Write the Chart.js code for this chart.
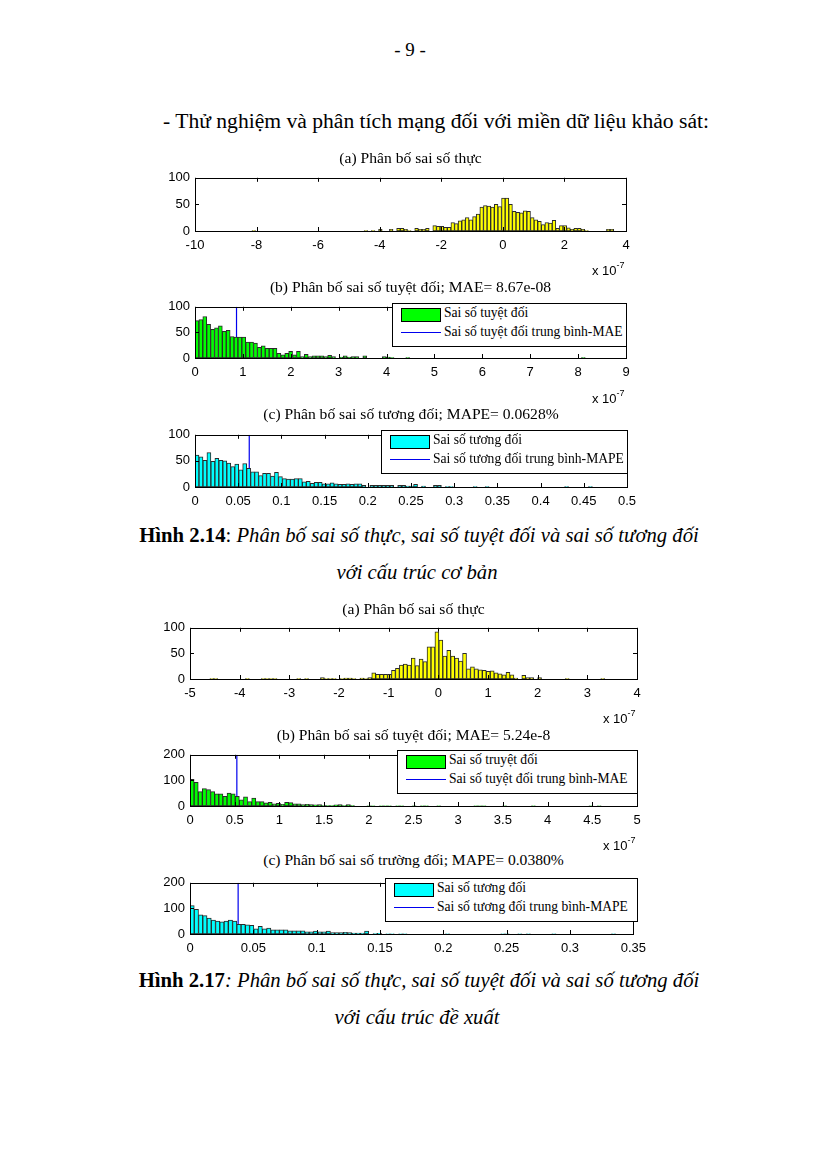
<!DOCTYPE html>
<html>
<head>
<meta charset="utf-8">
<script src="https://cdn.jsdelivr.net/npm/chart.js@4.4.1/dist/chart.umd.min.js"></script>
<style>
  html, body { margin: 0; padding: 0; background: #fff; }
  #page { position: relative; width: 819px; height: 1157px; font-family: 'Liberation Serif', 'Times New Roman', serif; color: #000; overflow: hidden; }
  .abs { position: absolute; white-space: nowrap; }
  .ctr { transform: translate(-50%, -50%); }
  .ttl { font-size: 15.6px; }
  .expo { font-family: 'Liberation Sans', Arial, sans-serif; font-size: 13px; }
  .expo sup { font-size: 9px; position: relative; top: -2px; }
  .legend { position: absolute; border: 1px solid #000; background: #fff; font-size: 13.6px; }
  .cap { font-size: 20.7px; }
  canvas { position: absolute; }
</style>
</head>
<body>
<div id="page">
  <div class="abs ctr" style="left:410px; top:50px; font-size:19px;">- 9 -</div>
  <div class="abs" style="left:163px; top:109px; font-size:21.6px;">- Thử nghiệm và phân tích mạng đối với miền dữ liệu khảo sát:</div>

  <div class="abs ctr cap" style="left:419px; top:535px;"><b>Hình 2.14</b>: <i>Phân bố sai số thực, sai số tuyệt đối và sai số tương đối</i></div>
  <div class="abs ctr cap" style="left:417px; top:572px;"><i>với cấu trúc cơ bản</i></div>
  <div class="abs ctr cap" style="left:419px; top:980px;"><b>Hình 2.17</b><i>: Phân bố sai số thực, sai số tuyệt đối và sai số tương đối</i></div>
  <div class="abs ctr cap" style="left:417px; top:1017px;"><i>với cấu trúc đề xuất</i></div>
</div>
<script>
// histogram counts (100 bins each)
const realErr1 = [
  1,0,0,0,0,0,0,0,0,0,
  0,0,0,0,0,0,0,0,0,0,
  0,0,0,0,0,0,0,0,0,0,
  0,1,0,1,0,3,0,0,3,0,
  5,5,3,1,0,5,3,3,5,0,
  10,9,9,7,7,16,14,19,21,25,
  21,27,32,45,48,47,45,50,46,62,
  62,50,37,35,34,38,37,25,21,18,
  12,16,15,20,5,10,10,6,3,5,
  5,3,1,0,0,0,0,0,3,3
];
const absErr1 = [
  73,75,81,66,56,59,63,52,54,42,
  41,41,41,31,31,29,21,24,19,19,
  19,9,6,9,13,6,13,3,7,3,
  4,4,4,3,5,3,0,2,4,2,
  3,3,0,4,0,0,0,0,3,2,
  1,0,0,0,1,0,0,0,0,0,
  0,0,0,0,0,0,0,0,0,0,
  0,0,0,0,0,0,0,0,0,0,
  0,0,0,0,0,0,0,0,0,0,
  0,0,0,0,0,0,0,0,0,1
];
const relErr1 = [
  61,58,51,66,49,55,51,50,46,39,
  44,33,45,36,29,29,22,26,26,21,
  28,20,16,15,15,16,16,10,11,7,
  9,9,6,6,8,6,5,5,6,5,
  6,6,3,0,3,3,3,3,3,3,
  0,3,3,2,2,5,0,2,0,0,
  3,3,0,1,1,0,0,0,0,0,
  1,0,0,1,0,0,0,0,0,0,
  0,0,0,0,0,0,0,0,0,0,
  0,0,0,1,0,0,0,0,0,1
];
const realErr2 = [
  1,1,0,0,0,0,0,0,0,1,
  0,0,0,1,1,1,1,0,0,0,
  0,0,1,0,1,0,0,0,3,1,
  1,1,0,1,2,2,1,0,2,1,
  3,12,9,9,9,9,17,21,27,29,
  27,41,26,39,34,63,63,92,76,45,
  56,45,41,35,50,20,24,20,18,17,
  15,16,12,10,8,13,8,2,0,7,
  3,3,0,3,0,0,0,0,0,0,
  1,0,0,0,0,0,0,0,0,1
];
const absErr2 = [
  104,92,56,68,64,56,48,48,38,50,
  48,38,24,36,17,31,17,17,12,14,
  8,10,7,14,13,8,8,6,7,6,
  5,6,2,2,2,5,6,2,6,2,
  0,0,0,1,1,0,1,1,1,0,
  1,1,0,0,1,0,1,1,0,0,
  1,0,0,0,0,0,0,0,0,1,
  1,1,0,0,0,0,1,0,0,0,
  0,0,0,1,0,0,0,0,0,0,
  0,0,0,0,0,0,0,1,0,1
];
const relErr2 = [
  111,96,75,72,62,54,50,48,50,54,
  50,38,38,36,34,20,30,20,23,16,
  16,16,16,12,12,12,12,8,8,11,
  8,8,11,6,6,6,7,6,4,4,
  4,11,0,2,3,0,1,1,0,1,
  1,0,0,0,0,0,0,0,0,0,
  1,0,0,0,0,0,0,0,0,0,
  0,0,0,1,1,0,0,1,0,1,
  0,0,0,0,0,1,0,0,0,0,
  0,0,0,0,0,0,0,0,0,1
];

// bin edges: [first edge, bin width]
const bins1a = [-8.15, 0.1175];
const bins1b = [0, 0.0815];
const bins1c = [0, 0.0046];
const bins2a = [-4.6, 0.0795];
const bins2b = [0, 0.046];
const bins2c = [0, 0.00336];

// mean lines (MAE in 1e-7 units, MAPE in %)
const mae1 = 0.867, mape1 = 0.0628;
const mae2 = 0.524, mape2 = 0.038;

const titles = [
  '(a) Phân bố sai số thực',
  '(b) Phân bố sai số tuyệt đối; MAE= 8.67e-08',
  '(c) Phân bố sai số tương đối; MAPE= 0.0628%',
  '(a) Phân bố sai số thực',
  '(b) Phân bố sai số tuyệt đối; MAE= 5.24e-8',
  '(c) Phân bố sai số trường đối; MAPE= 0.0380%',
];
const absLegend1 = ['Sai số tuyệt đối', 'Sai số tuyệt đối trung bình-MAE'];
const relLegend1 = ['Sai số tương đối', 'Sai số tương đối trung bình-MAPE'];
const absLegend2 = ['Sai số truyệt đối', 'Sai số tuyệt đối trung bình-MAE'];
const relLegend2 = ['Sai số tương đối', 'Sai số tương đối trung bình-MAPE'];

const page = document.getElementById('page');
const LEFT_W = 45, TOP_PAD = 8, RIGHT_PAD = 16, BOTTOM_H = 22;
const MEAN_COLOR = '#0000ee';

// matlab style box with inward ticks
const boxPlugin = {
  id: 'box',
  afterDatasetsDraw(chart) {
    const { ctx, chartArea: a, scales } = chart;
    ctx.save();
    ctx.strokeStyle = '#000';
    ctx.lineWidth = 1;
    ctx.strokeRect(Math.round(a.left) + 0.5, Math.round(a.top) + 0.5, Math.round(a.right - a.left), Math.round(a.bottom - a.top));
    ctx.beginPath();
    scales.x.ticks.forEach((t) => {
      const x = Math.round(scales.x.getPixelForValue(t.value)) + 0.5;
      ctx.moveTo(x, a.bottom); ctx.lineTo(x, a.bottom - 4);
      ctx.moveTo(x, a.top); ctx.lineTo(x, a.top + 4);
    });
    scales.y.ticks.forEach((t) => {
      const y = Math.round(scales.y.getPixelForValue(t.value)) + 0.5;
      ctx.moveTo(a.left, y); ctx.lineTo(a.left + 4, y);
      ctx.moveTo(a.right, y); ctx.lineTo(a.right - 4, y);
    });
    ctx.stroke();
    ctx.restore();
  }
};

function addText(html, cls, x, y) {
  const d = document.createElement('div');
  d.className = 'abs ' + cls;
  d.style.left = x + 'px';
  d.style.top = y + 'px';
  d.innerHTML = html;
  page.appendChild(d);
  return d;
}

function addLegend(labels, color, box) {
  const lg = document.createElement('div');
  lg.className = 'legend';
  lg.style.left = box.l + 'px';
  lg.style.top = box.t + 'px';
  lg.style.width = (box.w - 2) + 'px';
  lg.style.height = (box.h - 2) + 'px';
  lg.innerHTML =
    `<div style="position:absolute;left:8px;top:4px;width:38px;height:12px;background:${color};border:1px solid #000;"></div>` +
    `<div class="abs" style="left:51px;top:1px;">${labels[0]}</div>` +
    `<div style="position:absolute;left:8px;top:28px;width:40px;height:1px;background:${MEAN_COLOR};"></div>` +
    `<div class="abs" style="left:51px;top:20px;">${labels[1]}</div>`;
  page.appendChild(lg);
}

function makeHist(box, counts, binDef, color, x, y, mean) {
  const cv = document.createElement('canvas');
  const w = (box.r - box.l) + LEFT_W + RIGHT_PAD;
  const h = (box.b - box.t) + TOP_PAD + BOTTOM_H;
  cv.width = w; cv.height = h;
  cv.style.left = (box.l - LEFT_W) + 'px';
  cv.style.top = (box.t - TOP_PAD) + 'px';
  cv.style.width = w + 'px'; cv.style.height = h + 'px';
  page.appendChild(cv);

  const pts = counts.map((c, i) => ({ x: binDef[0] + (i + 0.5) * binDef[1], y: c }));
  const datasets = [{
    type: 'bar',
    data: pts,
    backgroundColor: color,
    borderColor: '#2a2a2a',
    borderWidth: 1,
    borderSkipped: false,
    barPercentage: 1,
    categoryPercentage: 1,
  }];
  if (mean !== undefined) {
    datasets.push({
      type: 'line',
      data: [{ x: mean, y: 0 }, { x: mean, y: y.max }],
      borderColor: MEAN_COLOR,
      borderWidth: 1.2,
      pointRadius: 0,
    });
  }
  const tickFont = { family: "'Liberation Sans', Arial, sans-serif", size: 13 };
  new Chart(cv, {
    data: { datasets },
    options: {
      responsive: false,
      animation: false,
      devicePixelRatio: 1,
      layout: { padding: { top: TOP_PAD, right: RIGHT_PAD, left: 0, bottom: 0 } },
      plugins: { legend: { display: false }, tooltip: { enabled: false } },
      scales: {
        x: {
          type: 'linear', min: x.min, max: x.max, offset: false,
          grid: { display: false, drawTicks: false }, border: { display: false },
          ticks: { stepSize: x.step, autoSkip: false, maxRotation: 0, padding: 7, color: '#000', font: tickFont,
            callback: (v) => String(Number(v.toFixed(3))) },
          afterFit: (s) => { s.height = BOTTOM_H; },
        },
        y: {
          min: 0, max: y.max,
          grid: { display: false, drawTicks: false }, border: { display: false },
          ticks: { stepSize: y.step, padding: 5, color: '#000', font: tickFont },
          afterFit: (s) => { s.width = LEFT_W; },
        },
      },
    },
    plugins: [boxPlugin],
  });
}

// figure 2.14
const b1 = { l: 195, r: 626, t: 173, b: 231 };
const b2 = { l: 195, r: 626, t: 302, b: 358 };
const b3 = { l: 195, r: 627, t: 430, b: 487 };
// figure 2.17
const b4 = { l: 190, r: 637, t: 623, b: 679 };
const b5 = { l: 190, r: 637, t: 750, b: 806 };
const b6 = { l: 190, r: 637, t: 878, b: 934 };

makeHist(b1, realErr1, bins1a, '#ffff00', { min: -10, max: 4, step: 2 }, { max: 100, step: 50 });
makeHist(b2, absErr1, bins1b, '#00ff00', { min: 0, max: 9, step: 1 }, { max: 100, step: 50 }, mae1);
makeHist(b3, relErr1, bins1c, '#00ffff', { min: 0, max: 0.5, step: 0.05 }, { max: 100, step: 50 }, mape1);
makeHist(b4, realErr2, bins2a, '#ffff00', { min: -5, max: 4, step: 1 }, { max: 100, step: 50 });
makeHist(b5, absErr2, bins2b, '#00ff00', { min: 0, max: 5, step: 0.5 }, { max: 200, step: 100 }, mae2);
makeHist(b6, relErr2, bins2c, '#00ffff', { min: 0, max: 0.35, step: 0.05 }, { max: 200, step: 100 }, mape2);

// titles
[[b1, 158], [b2, 287], [b3, 414], [b4, 609], [b5, 735], [b6, 860]].forEach(([b, ty], i) => {
  addText(titles[i], 'ctr ttl', (b.l + b.r) / 2, ty);
});

// x 10^-7 labels
[[b1, 270], [b2, 398], [b4, 718], [b5, 845]].forEach(([b, ty]) => {
  addText('x 10<sup>-7</sup>', 'expo', b.r - 34, ty - 8);
});

// legends
addLegend(absLegend1, '#00ff00', { l: 392, t: 303, w: 235, h: 44 });
addLegend(relLegend1, '#00ffff', { l: 381, t: 430, w: 247, h: 44 });
addLegend(absLegend2, '#00ff00', { l: 397, t: 750, w: 241, h: 44 });
addLegend(relLegend2, '#00ffff', { l: 385, t: 878, w: 253, h: 44 });
</script>
</body>
</html>
